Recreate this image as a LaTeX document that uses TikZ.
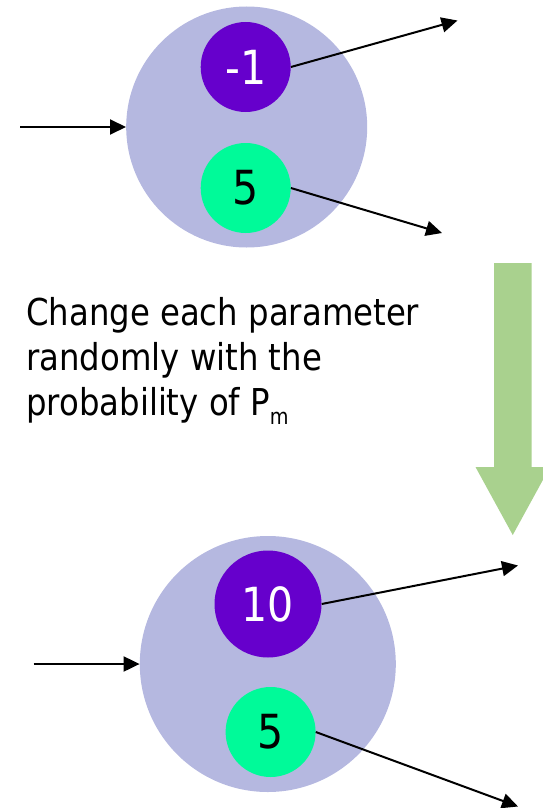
\documentclass[tikz,border=0pt]{standalone}
\usepackage{fontspec}
\newfontfamily\tahoma[FakeStretch=0.874]{DejaVu Sans}
\usetikzlibrary{arrows.meta}
\definecolor{cellblue}{RGB}{181,184,224}
\definecolor{genpurple}{RGB}{102,0,204}
\definecolor{gengreen}{RGB}{0,250,153}
\definecolor{flowgreen}{RGB}{169,209,142}
\tikzset{
  cell/.style={circle, fill=cellblue, draw=none, inner sep=0pt},
  genp/.style={circle, fill=genpurple, draw=none, inner sep=0pt, text=white, font=\tahoma\fontsize{47}{47}\selectfont},
  geng/.style={circle, fill=gengreen, draw=none, inner sep=0pt, text=black, font=\tahoma\fontsize{47}{47}\selectfont},
  conn/.style={line width=2pt, -{Triangle[length=16pt,width=15pt]}},
  lbl/.style={anchor=base west, inner sep=0pt, font=\tahoma\fontsize{37}{45}\selectfont}
}
\begin{document}
\begin{tikzpicture}[x=1pt,y=-1pt]
\useasboundingbox (0,0) rectangle (543,808);
% top neuron
\node[cell, minimum size=241pt] (big1) at (246.7,127) {};
\node[genp, minimum size=90pt] (p1) at (245.7,67) {-1};
\node[geng, minimum size=90pt] (g1) at (245.7,188) {5};
\coordinate (in1) at (20,127);
\coordinate (o1a) at (457.5,20.5);
\coordinate (o1b) at (442,233);
\draw[conn] (in1) -- (big1.west);
\draw[conn] (p1.east) -- (o1a);
\draw[conn] (g1.east) -- (o1b);
% text
\node[lbl] (t1) at (26,325) {Change each parameter};
\node[lbl] (t2) at (26,370) {randomly with the};
\node[lbl] (t3) at (26,415) {probability of P\raisebox{-9pt}{\fontsize{22}{22}\selectfont m}};
% big green arrow
\fill[flowgreen] (494,263) -- (531.5,263) -- (531.5,467) -- (550,467) -- (512.75,535) -- (475.5,467) -- (494,467) -- cycle;
% bottom neuron
\node[cell, minimum size=256pt] (big2) at (267.8,664) {};
\node[genp, minimum size=107pt] (p2) at (268,604) {10};
\node[geng, minimum size=90pt] (g2) at (270.6,732) {5};
\coordinate (in2) at (33.6,664);
\coordinate (o2a) at (518,565.5);
\coordinate (o2b) at (518,806.5);
\draw[conn] (in2) -- (big2.west);
\draw[conn] (p2.east) -- (o2a);
\draw[conn] (g2.east) -- (o2b);
\end{tikzpicture}
\end{document}
